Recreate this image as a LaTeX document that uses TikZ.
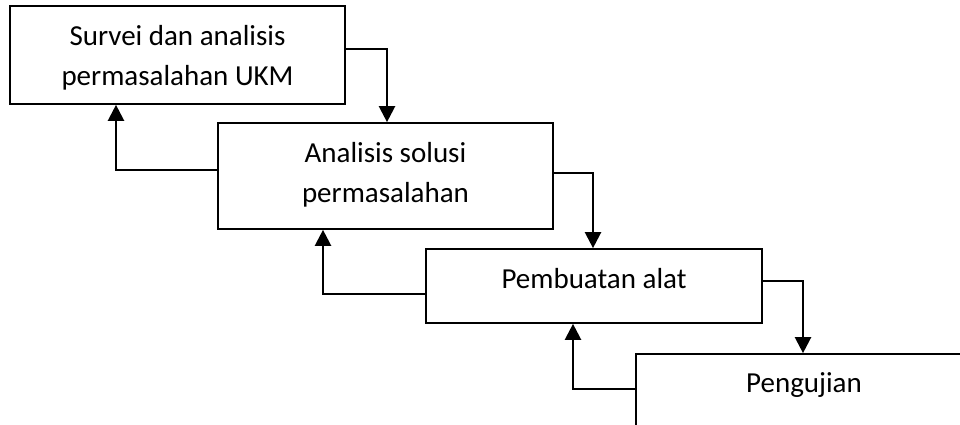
\documentclass[tikz,border=0pt]{standalone}
\usepackage{fontspec}
\setmainfont{Carlito}
\usetikzlibrary{arrows.meta}
\begin{document}
\begin{tikzpicture}[x=1pt,y=-1pt,
  box/.style={draw=black,line width=1.7pt,fill=white,inner sep=0pt,minimum width=#1},
  box/.default=335pt,
  txt/.style={inner sep=0pt,anchor=base,font=\fontsize{29}{35}\selectfont},
  arr/.style={line width=2.3pt,-{Triangle[length=16pt,width=16pt]}}]
\clip (0,0) rectangle (960,425);
\fill[white] (0,0) rectangle (960,425);
\node[box=335pt,minimum height=98pt] (b1) at (177.5,55) {};
\node[box=335pt,minimum height=106pt] (b2) at (385.5,176) {};
\node[box=336pt,minimum height=74pt] (b3) at (594,286) {};
\node[box=336pt,minimum height=110pt] (b4) at (804,409) {};
\node[txt] (t1a) at (177.5,46) {Survei dan analisis};
\node[txt] (t1b) at (177.5,86) {permasalahan UKM};
\node[txt] (t2a) at (385.5,162) {Analisis solusi};
\node[txt] (t2b) at (385.5,202) {permasalahan};
\node[txt] (t3) at (594,288) {Pembuatan alat};
\node[txt] (t4) at (804,392) {Pengujian};
\draw[arr] (b1.east |- 0,49) -| (b2.north -| 387,0);
\draw[arr] (b2.west |- 0,170) -| (b1.south -| 116,0);
\draw[arr] (b2.east |- 0,173) -| (b3.north -| 593,0);
\draw[arr] (b3.west |- 0,294) -| (b2.south -| 323,0);
\draw[arr] (b3.east |- 0,281) -| (b4.north -| 803,0);
\draw[arr] (b4.west |- 0,389) -| (b3.south -| 573,0);
\end{tikzpicture}
\end{document}
